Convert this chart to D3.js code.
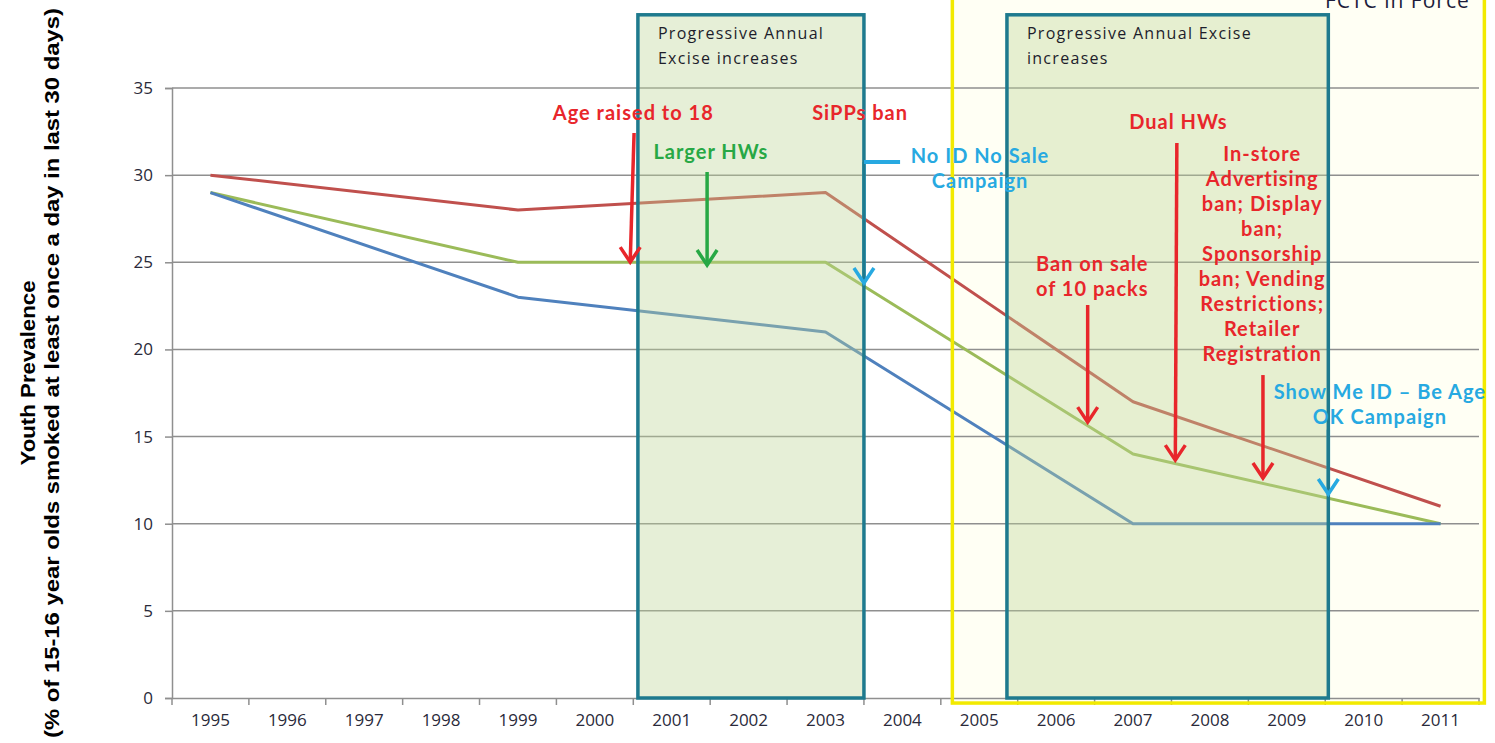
<!DOCTYPE html>
<html>
<head>
<meta charset="utf-8">
<script src="https://cdn.jsdelivr.net/npm/d3@7"></script>
<style>
  html, body { margin: 0; padding: 0; background: #ffffff; }
  svg { display: block; }
</style>
</head>
<body>
<svg id="chart" width="1495" height="743"></svg>
<script>
// Survey years on the category axis
const years = ["1995","1996","1997","1998","1999","2000","2001","2002","2003","2004","2005","2006","2007","2008","2009","2010","2011"];
// Youth smoking prevalence (%), surveyed every four years; other years have no value
const seriesRed   = [30, null, null, null, 28, null, null, null, 29, null, null, null, 17, null, null, null, 11];
const seriesGreen = [29, null, null, null, 25, null, null, null, 25, null, null, null, 14, null, null, null, 10];
const seriesBlue  = [29, null, null, null, 23, null, null, null, 21, null, null, null, 10, null, null, null, 10];
const yTicks = [0, 5, 10, 15, 20, 25, 30, 35];

const series = [
  { values: seriesRed,   color: "#c0504d" },
  { values: seriesGreen, color: "#9bbb59" },
  { values: seriesBlue,  color: "#4f81bd" }
];

// Policy periods (year positions, value extents)
const excisePeriods = [
  { x0: 2000.56, x1: 2003.50, top: 39.2, lines: ["Progressive Annual", "Excise increases"], tx: 2000.82 },
  { x0: 2005.36, x1: 2009.54, top: 39.2, lines: ["Progressive Annual Excise", "increases"], tx: 2005.62 }
];
const fctcPeriod = { x0: 2004.65, x1: 2011.57, top: 40.3, bottom: -0.29, label: "FCTC in Force", lx: 2011.38, ly: 39.6 };

// Policy event labels
const RED = "#e8262b", GREEN = "#27a845", BLUE = "#27a9e1";
const eventLabels = [
  { lines: ["Age raised to 18"], x: 2000.50, y: 33.16, color: RED },
  { lines: ["SiPPs ban"], x: 2003.45, y: 33.16, color: RED },
  { lines: ["Larger HWs"], x: 2001.51, y: 30.92, color: GREEN },
  { lines: ["No ID No Sale", "Campaign"], x: 2005.01, y: 30.69, color: BLUE },
  { lines: ["Dual HWs"], x: 2007.59, y: 32.64, color: RED },
  { lines: ["In-store", "Advertising", "ban; Display", "ban;", "Sponsorship", "ban; Vending", "Restrictions;", "Retailer", "Registration"], x: 2008.68, y: 30.81, color: RED },
  { lines: ["Ban on  sale", "of 10 packs"], x: 2006.47, y: 24.50, color: RED },
  { lines: ["Show Me ID \u2013 Be Age", "OK Campaign"], x: 2010.21, y: 17.15, color: BLUE }
];
// Arrows pointing at the policy dates
const eventArrows = [
  { x0: 2000.51, y0: 32.42, x1: 2000.46, y1: 25.01, color: RED },
  { x0: 2001.46, y0: 30.18, x1: 2001.46, y1: 24.84, color: GREEN },
  { x0: 2007.57, y0: 31.84, x1: 2007.55, y1: 13.65, color: RED },
  { x0: 2006.41, y0: 22.55, x1: 2006.41, y1: 15.83, color: RED },
  { x0: 2008.69, y0: 18.53, x1: 2008.69, y1: 12.62, color: RED },
  { x0: 2003.50, y0: 30.75, x1: 2003.50, y1: 23.81, color: BLUE, hiddenShaft: true },
  { x0: 2009.54, y0: 15.40, x1: 2009.54, y1: 11.70, color: BLUE, hiddenShaft: true }
];
// Short bracket stub for the "No ID No Sale" campaign
const bracketStub = { x0: 2003.50, x1: 2003.97, y: 30.75, color: BLUE };

const FONT = "'Open Sans', Lato, sans-serif";
const LABEL_FONT = "Lato, 'Open Sans', sans-serif";
const svg = d3.select("#chart");
const plot = { left: 172, right: 1479, top: 88, bottom: 698 };

const x = d3.scaleBand().domain(years).range([plot.left, plot.right]).padding(0);
const bw = x.bandwidth();
const xAt = yr => x(years[0]) + (yr - +years[0] + 0.5) * bw;
const y = d3.scaleLinear().domain([0, 35]).range([plot.bottom, plot.top]);

// FCTC period background
svg.append("rect")
  .attr("x", xAt(fctcPeriod.x0)).attr("y", y(fctcPeriod.top))
  .attr("width", xAt(fctcPeriod.x1) - xAt(fctcPeriod.x0))
  .attr("height", y(fctcPeriod.bottom) - y(fctcPeriod.top))
  .attr("fill", "#fffff4");

// Horizontal gridlines
svg.append("g").selectAll("line").data(yTicks.filter(d => d > 0)).join("line")
  .attr("x1", plot.left).attr("x2", plot.right)
  .attr("y1", d => y(d)).attr("y2", d => y(d))
  .attr("stroke", "#8f8f8f").attr("stroke-width", 1.5);

// Y axis
const yAxis = svg.append("g").attr("transform", `translate(${plot.left},0)`)
  .call(d3.axisLeft(y).tickValues(yTicks).tickSize(7).tickPadding(12));
yAxis.select(".domain").attr("stroke", "#8f8f8f").attr("stroke-width", 1.5);
yAxis.selectAll(".tick line").attr("stroke", "#8f8f8f").attr("stroke-width", 1.5);
yAxis.selectAll("text").attr("font-family", FONT)
  .attr("font-size", 17).attr("fill", "#2a2a3a");

// X axis with ticks between categories
const xAxis = svg.append("g").attr("transform", `translate(0,${plot.bottom})`)
  .call(d3.axisBottom(x).tickSize(0).tickPadding(16));
xAxis.select(".domain").attr("stroke", "#8f8f8f").attr("stroke-width", 1.5);
xAxis.selectAll("text").attr("font-family", FONT)
  .attr("font-size", 17).attr("fill", "#2a2a3a");
xAxis.selectAll(".sep").data(d3.range(years.length + 1)).join("line")
  .attr("class", "sep")
  .attr("x1", i => plot.left + i * bw).attr("x2", i => plot.left + i * bw)
  .attr("y1", 0).attr("y2", 7)
  .attr("stroke", "#8f8f8f").attr("stroke-width", 1.5);

// Series lines, joining the surveyed years
const line = d3.line().x(d => x(d.year) + bw / 2).y(d => y(d.v));
series.forEach(s => {
  const pts = years.map((yr, i) => ({ year: yr, v: s.values[i] })).filter(d => d.v != null);
  svg.append("path").datum(pts)
    .attr("d", line).attr("fill", "none")
    .attr("stroke", s.color).attr("stroke-width", 3).attr("stroke-linejoin", "round");
});

// Campaign arrow shafts run along the period borders
eventArrows.filter(a => a.hiddenShaft).forEach(a => {
  svg.append("line").attr("x1", xAt(a.x0)).attr("y1", y(a.y0)).attr("x2", xAt(a.x1)).attr("y2", y(a.y1))
    .attr("stroke", a.color).attr("stroke-width", 3.5);
});

// Excise increase periods, laid over the lines
excisePeriods.forEach(p => {
  svg.append("rect")
    .attr("x", xAt(p.x0)).attr("y", y(p.top))
    .attr("width", xAt(p.x1) - xAt(p.x0)).attr("height", y(0) - y(p.top))
    .attr("fill", "#bcd597").attr("fill-opacity", 0.38)
    .attr("stroke", "#1e7a8e").attr("stroke-width", 3.5);
  svg.append("text")
    .attr("x", xAt(p.tx)).attr("y", y(p.top))
    .attr("font-family", FONT).attr("font-size", 16)
    .attr("letter-spacing", 1.3)
    .attr("fill", "#1d1d2b")
    .selectAll("tspan").data(p.lines).join("tspan")
    .attr("x", xAt(p.tx)).attr("dy", (d, i) => i === 0 ? 24 : 25)
    .text(d => d);
});

// Arrows
function drawArrow(a) {
  const X0 = xAt(a.x0), Y0 = y(a.y0), X1 = xAt(a.x1), Y1 = y(a.y1);
  if (!a.hiddenShaft) {
    svg.append("line").attr("x1", X0).attr("y1", Y0).attr("x2", X1).attr("y2", Y1)
      .attr("stroke", a.color).attr("stroke-width", 3.5);
  }
  svg.append("path")
    .attr("d", `M${X1 - 10},${Y1 - 15} L${X1},${Y1} L${X1 + 10},${Y1 - 15}`)
    .attr("fill", "none").attr("stroke", a.color).attr("stroke-width", 3.5)
    .attr("stroke-linejoin", "miter");
}
eventArrows.forEach(drawArrow);
svg.append("line")
  .attr("x1", xAt(bracketStub.x0)).attr("x2", xAt(bracketStub.x1))
  .attr("y1", y(bracketStub.y)).attr("y2", y(bracketStub.y))
  .attr("stroke", bracketStub.color).attr("stroke-width", 4);

// FCTC period border and label
svg.append("rect")
  .attr("x", xAt(fctcPeriod.x0)).attr("y", y(fctcPeriod.top))
  .attr("width", xAt(fctcPeriod.x1) - xAt(fctcPeriod.x0))
  .attr("height", y(fctcPeriod.bottom) - y(fctcPeriod.top))
  .attr("fill", "none").attr("stroke", "#f2ea00").attr("stroke-width", 3.5);
svg.append("text")
  .attr("x", xAt(fctcPeriod.lx)).attr("y", y(fctcPeriod.ly))
  .attr("text-anchor", "end")
  .attr("font-family", FONT).attr("font-size", 21)
  .attr("letter-spacing", 1)
  .attr("fill", "#1d1d3b").text(fctcPeriod.label);

// Event labels
eventLabels.forEach(l => {
  svg.append("text")
    .attr("x", xAt(l.x)).attr("y", y(l.y))
    .attr("text-anchor", "middle")
    .attr("font-family", LABEL_FONT).attr("font-size", 20)
    .attr("letter-spacing", 1)
    .attr("font-weight", 700).attr("fill", l.color)
    .selectAll("tspan").data(l.lines).join("tspan")
    .attr("x", xAt(l.x)).attr("dy", (d, i) => i === 0 ? 0 : 25)
    .text(d => d);
});

// Y axis title
const title = svg.append("text")
  .attr("transform", "translate(35,373) rotate(-90)")
  .attr("text-anchor", "middle")
  .attr("font-family", "'Liberation Sans', Arial, sans-serif")
  .attr("font-size", 20).attr("font-weight", 700).attr("fill", "#000");
title.append("tspan").attr("x", 0).attr("dy", 0)
  .attr("textLength", 185).attr("lengthAdjust", "spacingAndGlyphs")
  .text("Youth Prevalence");
title.append("tspan").attr("x", 0).attr("dy", 24)
  .attr("textLength", 730).attr("lengthAdjust", "spacingAndGlyphs")
  .text("(% of 15-16 year olds smoked at least once a day in last 30 days)");
</script>
</body>
</html>
